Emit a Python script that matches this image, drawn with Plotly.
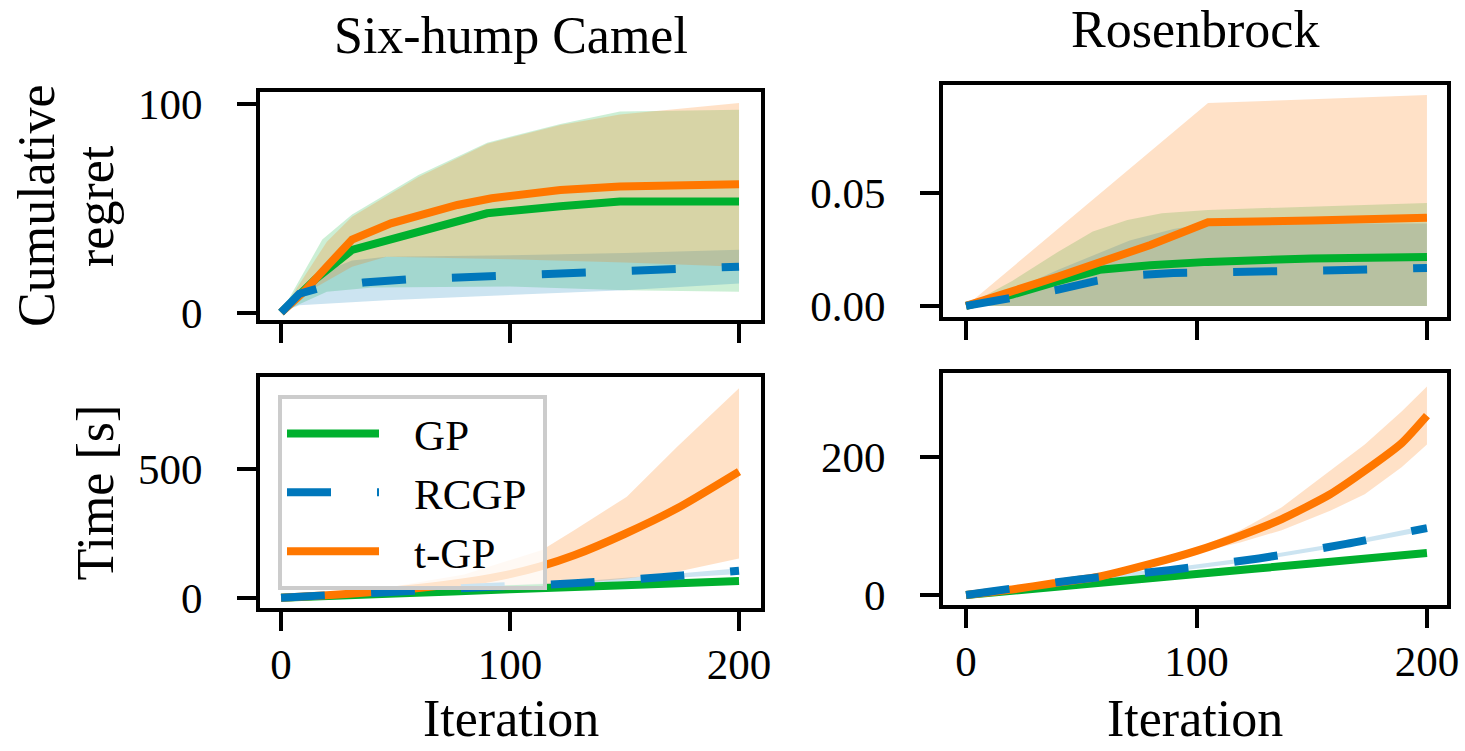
import plotly.graph_objects as go

W, H = 1465, 751
FONT = "Liberation Serif, Times New Roman, serif"

GREEN = "#00B02E"
BLUE = "#0077BB"
ORANGE = "#FF7700"
GREEN_F = "rgba(0,176,46,0.2)"
BLUE_F = "rgba(0,119,187,0.2)"
ORANGE_F = "rgba(255,119,0,0.22)"

methods = ["GP", "RCGP", "t-GP"]
col_titles = ["Six-hump Camel", "Rosenbrock"]
x_ticks = [0, 100, 200]

# ---------------- Six-hump Camel : cumulative regret ----------------
camel_reg_gp_x = [0, 15, 31, 60, 90, 122, 148, 200]
camel_reg_gp_y = [0, 16, 30, 38.8, 47.6, 51, 53.2, 53.2]
camel_reg_gp_lo_x = [0, 20, 40, 100, 150, 200]
camel_reg_gp_lo_y = [0, 10, 12, 12.5, 10.7, 10]
camel_reg_gp_hi_x = [0, 18, 31, 60, 90, 122, 148, 200]
camel_reg_gp_hi_y = [0, 35, 47, 66, 81.5, 90.5, 96.5, 97.3]

camel_reg_rc_x = [0, 8, 16, 36, 56, 76, 95, 115, 135, 155, 174, 200]
camel_reg_rc_y = [0, 9, 11.5, 14.4, 15.9, 16.8, 17.6, 18.8, 19.2, 20.4, 20.8, 22]
camel_reg_rc_lo_x = [0, 8, 46, 100, 150, 200]
camel_reg_rc_lo_y = [0, 3.5, 5.9, 8.3, 10.7, 13.9]
camel_reg_rc_hi_x = [0, 15, 31, 46, 100, 150, 200]
camel_reg_rc_hi_y = [0, 18, 25, 26.8, 27.5, 28.5, 30.1]

camel_reg_t_x = [0, 10, 20, 31, 48, 77, 92, 122, 148, 200]
camel_reg_t_y = [0, 10, 22, 35, 42.8, 51.6, 54.8, 58.8, 60.4, 61.5]
camel_reg_t_lo_x = [0, 15, 31, 46, 100, 150, 200]
camel_reg_t_lo_y = [0, 12, 22, 26.8, 25.5, 24, 22]
camel_reg_t_hi_x = [0, 20, 31, 60, 90, 122, 148, 200]
camel_reg_t_hi_y = [0, 34, 46, 65, 81, 90, 95, 100.5]

# ---------------- Rosenbrock : cumulative regret ----------------
rosen_reg_gp_x = [0, 20, 40, 58, 80, 105, 150, 200]
rosen_reg_gp_y = [0, 0.005, 0.011, 0.016, 0.018, 0.0195, 0.021, 0.0217]
rosen_reg_gp_lo_x = [0, 200]
rosen_reg_gp_lo_y = [0, 0]
rosen_reg_gp_hi_x = [0, 20, 40, 55, 70, 85, 105, 150, 200]
rosen_reg_gp_hi_y = [0, 0.011, 0.024, 0.033, 0.038, 0.041, 0.0425, 0.044, 0.0456]

rosen_reg_rc_x = [0, 20, 40, 57, 75, 90, 125, 160, 200]
rosen_reg_rc_y = [0, 0.0035, 0.0072, 0.0112, 0.0137, 0.0146, 0.015, 0.0158, 0.0168]
rosen_reg_rc_lo_x = [0, 200]
rosen_reg_rc_lo_y = [0, 0]
rosen_reg_rc_hi_x = [0, 20, 40, 71, 90, 105, 150, 200]
rosen_reg_rc_hi_y = [0, 0.007, 0.016, 0.029, 0.034, 0.0365, 0.0365, 0.0365]

rosen_reg_t_x = [0, 40, 80, 105, 150, 200]
rosen_reg_t_y = [0, 0.013, 0.027, 0.037, 0.0378, 0.039]
rosen_reg_t_lo_x = [0, 200]
rosen_reg_t_lo_y = [0, 0]
rosen_reg_t_hi_x = [0, 105, 150, 200]
rosen_reg_t_hi_y = [0, 0.0898, 0.0915, 0.0934]

# ---------------- Six-hump Camel : time ----------------
camel_time_gp_x = [0, 50, 100, 150, 200]
camel_time_gp_y = [0, 16, 33, 49, 65]
camel_time_gp_lo_y = [0, 14, 31, 47, 62]
camel_time_gp_hi_y = [0, 18, 35, 51, 68]

camel_time_rc_x = [0, 10, 50, 90, 128, 166, 200]
camel_time_rc_y = [0, 5, 23, 42, 56, 80, 105]
camel_time_rc_lo_y = [0, 4, 20, 38, 51, 74, 92]
camel_time_rc_hi_y = [0, 6, 26, 46, 62, 88, 115]

camel_time_t_x = [0, 20, 40, 60, 80, 100, 113, 128, 150, 173, 200]
camel_time_t_y = [0, 10, 22, 38, 60, 92, 121, 165, 248, 348, 491]
camel_time_t_lo_x = [0, 50, 114, 151, 173, 200]
camel_time_t_lo_y = [0, 15, 43, 75, 101, 153]
camel_time_t_hi_x = [0, 40, 80, 114, 128, 151, 173, 195, 200]
camel_time_t_hi_y = [0, 30, 90, 186, 263, 393, 588, 770, 815]

# ---------------- Rosenbrock : time ----------------
rosen_time_gp_x = [0, 50, 100, 150, 200]
rosen_time_gp_y = [0, 15, 30.5, 45.5, 61]
rosen_time_gp_lo_y = [0, 14, 29, 44, 59.5]
rosen_time_gp_hi_y = [0, 16, 32, 47, 62.5]

rosen_time_rc_x = [0, 10, 49, 88, 127, 165, 200]
rosen_time_rc_y = [0, 4.8, 22.5, 36, 53, 74, 97]
rosen_time_rc_lo_y = [0, 3.5, 20, 33, 50, 71, 93]
rosen_time_rc_hi_y = [0, 6, 25, 39, 56, 77, 101]

rosen_time_t_x = [0, 20, 38, 57, 80, 100, 119, 137, 158, 173, 189, 200]
rosen_time_t_y = [0, 8, 17, 26, 45, 64, 86, 110, 146, 180, 220, 260]
rosen_time_t_band_x = [0, 60, 100, 119, 137, 158, 173, 189, 200]
rosen_time_t_lo_y = [0, 25, 61, 76, 94, 122, 146, 185, 218]
rosen_time_t_hi_y = [0, 28, 68, 94, 127, 180, 218, 266, 302]

panels = [
    ("x", "y", [
        (GREEN, GREEN_F, camel_reg_gp_x, camel_reg_gp_y, camel_reg_gp_lo_x, camel_reg_gp_lo_y, camel_reg_gp_hi_x, camel_reg_gp_hi_y),
        (BLUE, BLUE_F, camel_reg_rc_x, camel_reg_rc_y, camel_reg_rc_lo_x, camel_reg_rc_lo_y, camel_reg_rc_hi_x, camel_reg_rc_hi_y),
        (ORANGE, ORANGE_F, camel_reg_t_x, camel_reg_t_y, camel_reg_t_lo_x, camel_reg_t_lo_y, camel_reg_t_hi_x, camel_reg_t_hi_y),
    ]),
    ("x2", "y2", [
        (GREEN, GREEN_F, rosen_reg_gp_x, rosen_reg_gp_y, rosen_reg_gp_lo_x, rosen_reg_gp_lo_y, rosen_reg_gp_hi_x, rosen_reg_gp_hi_y),
        (BLUE, BLUE_F, rosen_reg_rc_x, rosen_reg_rc_y, rosen_reg_rc_lo_x, rosen_reg_rc_lo_y, rosen_reg_rc_hi_x, rosen_reg_rc_hi_y),
        (ORANGE, ORANGE_F, rosen_reg_t_x, rosen_reg_t_y, rosen_reg_t_lo_x, rosen_reg_t_lo_y, rosen_reg_t_hi_x, rosen_reg_t_hi_y),
    ]),
    ("x3", "y3", [
        (GREEN, GREEN_F, camel_time_gp_x, camel_time_gp_y, camel_time_gp_x, camel_time_gp_lo_y, camel_time_gp_x, camel_time_gp_hi_y),
        (BLUE, BLUE_F, camel_time_rc_x, camel_time_rc_y, camel_time_rc_x, camel_time_rc_lo_y, camel_time_rc_x, camel_time_rc_hi_y),
        (ORANGE, ORANGE_F, camel_time_t_x, camel_time_t_y, camel_time_t_lo_x, camel_time_t_lo_y, camel_time_t_hi_x, camel_time_t_hi_y),
    ]),
    ("x4", "y4", [
        (GREEN, GREEN_F, rosen_time_gp_x, rosen_time_gp_y, rosen_time_gp_x, rosen_time_gp_lo_y, rosen_time_gp_x, rosen_time_gp_hi_y),
        (BLUE, BLUE_F, rosen_time_rc_x, rosen_time_rc_y, rosen_time_rc_x, rosen_time_rc_lo_y, rosen_time_rc_x, rosen_time_rc_hi_y),
        (ORANGE, ORANGE_F, rosen_time_t_x, rosen_time_t_y, rosen_time_t_band_x, rosen_time_t_lo_y, rosen_time_t_band_x, rosen_time_t_hi_y),
    ]),
]

fig = go.Figure()
LINE_W = 8
DASH = "44px,46px"
PRE = "\u00a0\u00a0\u2009"
POST = "\u00a0"

for pi, (xa, ya, series) in enumerate(panels):
    smooth = pi >= 2
    for (c, fc, mx, my, lx, ly, hx, hy) in series:
        fig.add_trace(go.Scatter(
            x=list(hx) + list(lx)[::-1], y=list(hy) + list(ly)[::-1],
            fill="toself", fillcolor=fc, line=dict(width=0, color=fc),
            mode="lines", hoverinfo="skip", showlegend=False, xaxis=xa, yaxis=ya))
    for k in [0, 2, 1]:
        c, fc, mx, my, lx, ly, hx, hy = series[k]
        line = dict(color=c, width=LINE_W, dash=DASH if k == 1 else "solid")
        if smooth:
            line.update(shape="spline", smoothing=0.6)
        fig.add_trace(go.Scatter(
            x=mx, y=my, mode="lines", name=PRE + methods[k] + POST, line=line,
            showlegend=(pi == 2), legendrank=k + 1, xaxis=xa, yaxis=ya))


def px_dom(a, b):
    return [a / W, b / W]


def py_dom(top, bottom):
    return [1 - bottom / H, 1 - top / H]


axis_common = dict(showline=True, mirror=True, linecolor="black", linewidth=4,
                   ticks="outside", ticklen=19, tickwidth=4, tickcolor="black",
                   showgrid=False, zeroline=False, automargin=False,
                   tickfont=dict(family=FONT, size=43, color="black"))

geom = {
    "TL": (260, 761, 92, 320),
    "TR": (943, 1447, 85, 317),
    "BL": (260, 761, 377, 608),
    "BR": (943, 1447, 373, 605),
}
YSO = 26
XSO = -4

fig.update_layout(
    xaxis=dict(domain=px_dom(*geom["TL"][:2]), anchor="y", range=[-9.2, 209.6],
               tickvals=x_ticks, showticklabels=False, **axis_common),
    yaxis=dict(domain=py_dom(*geom["TL"][2:]), anchor="x", range=[-3.6, 105.8],
               tickvals=[0, 100], ticklabelstandoff=YSO, **axis_common),
    xaxis2=dict(domain=px_dom(*geom["TR"][:2]), anchor="y2", range=[-10, 208.7],
                tickvals=x_ticks, showticklabels=False, **axis_common),
    yaxis2=dict(domain=py_dom(*geom["TR"][2:]), anchor="x2", range=[-0.0049, 0.0978],
                tickvals=[0, 0.05], tickformat=".2f", ticklabelstandoff=YSO, **axis_common),
    xaxis3=dict(domain=px_dom(*geom["BL"][:2]), anchor="y3", range=[-9.2, 209.6],
                tickvals=x_ticks, ticklabelstandoff=XSO, **axis_common),
    yaxis3=dict(domain=py_dom(*geom["BL"][2:]), anchor="x3", range=[-40, 859],
                tickvals=[0, 500], ticklabelstandoff=YSO, **axis_common),
    xaxis4=dict(domain=px_dom(*geom["BR"][:2]), anchor="y4", range=[-10, 208.7],
                tickvals=x_ticks, ticklabelstandoff=XSO, **axis_common),
    yaxis4=dict(domain=py_dom(*geom["BR"][2:]), anchor="x4", range=[-14.5, 321.7],
                tickvals=[0, 200], ticklabelstandoff=YSO, **axis_common),
    width=W, height=H,
    margin=dict(l=0, r=0, t=0, b=0, pad=0, autoexpand=False),
    paper_bgcolor="white", plot_bgcolor="white",
    font=dict(family=FONT, color="black"),
    showlegend=True,
    legend=dict(x=278 / W, y=1 - 395 / H, xanchor="left", yanchor="top",
                bgcolor="rgba(255,255,255,0.8)", bordercolor="#cccccc", borderwidth=4,
                font=dict(family=FONT, size=43, color="black"),
                itemwidth=92, traceorder="normal"),
)

ann = []
BIG = 52
for (x0, x1, top, _), t in zip([geom["TL"], geom["TR"]], col_titles):
    ann.append(dict(text=t, x=(x0 + x1) / 2 / W, y=1 - (top - 56) / H, xref="paper", yref="paper",
                    xanchor="center", yanchor="middle", showarrow=False,
                    font=dict(family=FONT, size=BIG, color="black")))
for (x0, x1, _, _) in [geom["BL"], geom["BR"]]:
    ann.append(dict(text="Iteration", x=(x0 + x1) / 2 / W, y=0, xref="paper", yref="paper",
                    xanchor="center", yanchor="bottom", yshift=2, showarrow=False,
                    font=dict(family=FONT, size=BIG, color="black")))
tl = geom["TL"]
ann.append(dict(text="Cumulative", x=36 / W, y=1 - (tl[2] + tl[3]) / 2 / H, xref="paper", yref="paper",
                xanchor="center", yanchor="middle", textangle=-90, showarrow=False,
                font=dict(family=FONT, size=BIG, color="black")))
ann.append(dict(text="regret", x=95 / W, y=1 - (tl[2] + tl[3]) / 2 / H, xref="paper", yref="paper",
                xanchor="center", yanchor="middle", textangle=-90, showarrow=False,
                font=dict(family=FONT, size=BIG, color="black")))
bl = geom["BL"]
ann.append(dict(text="Time [s]", x=95 / W, y=1 - (bl[2] + bl[3]) / 2 / H, xref="paper", yref="paper",
                xanchor="center", yanchor="middle", textangle=-90, showarrow=False,
                font=dict(family=FONT, size=BIG, color="black")))
fig.update_layout(annotations=ann)

fig.write_html("out.html", config={"displayModeBar": False},
               post_script="document.body.style.margin='0px';document.body.style.overflow='hidden';")
